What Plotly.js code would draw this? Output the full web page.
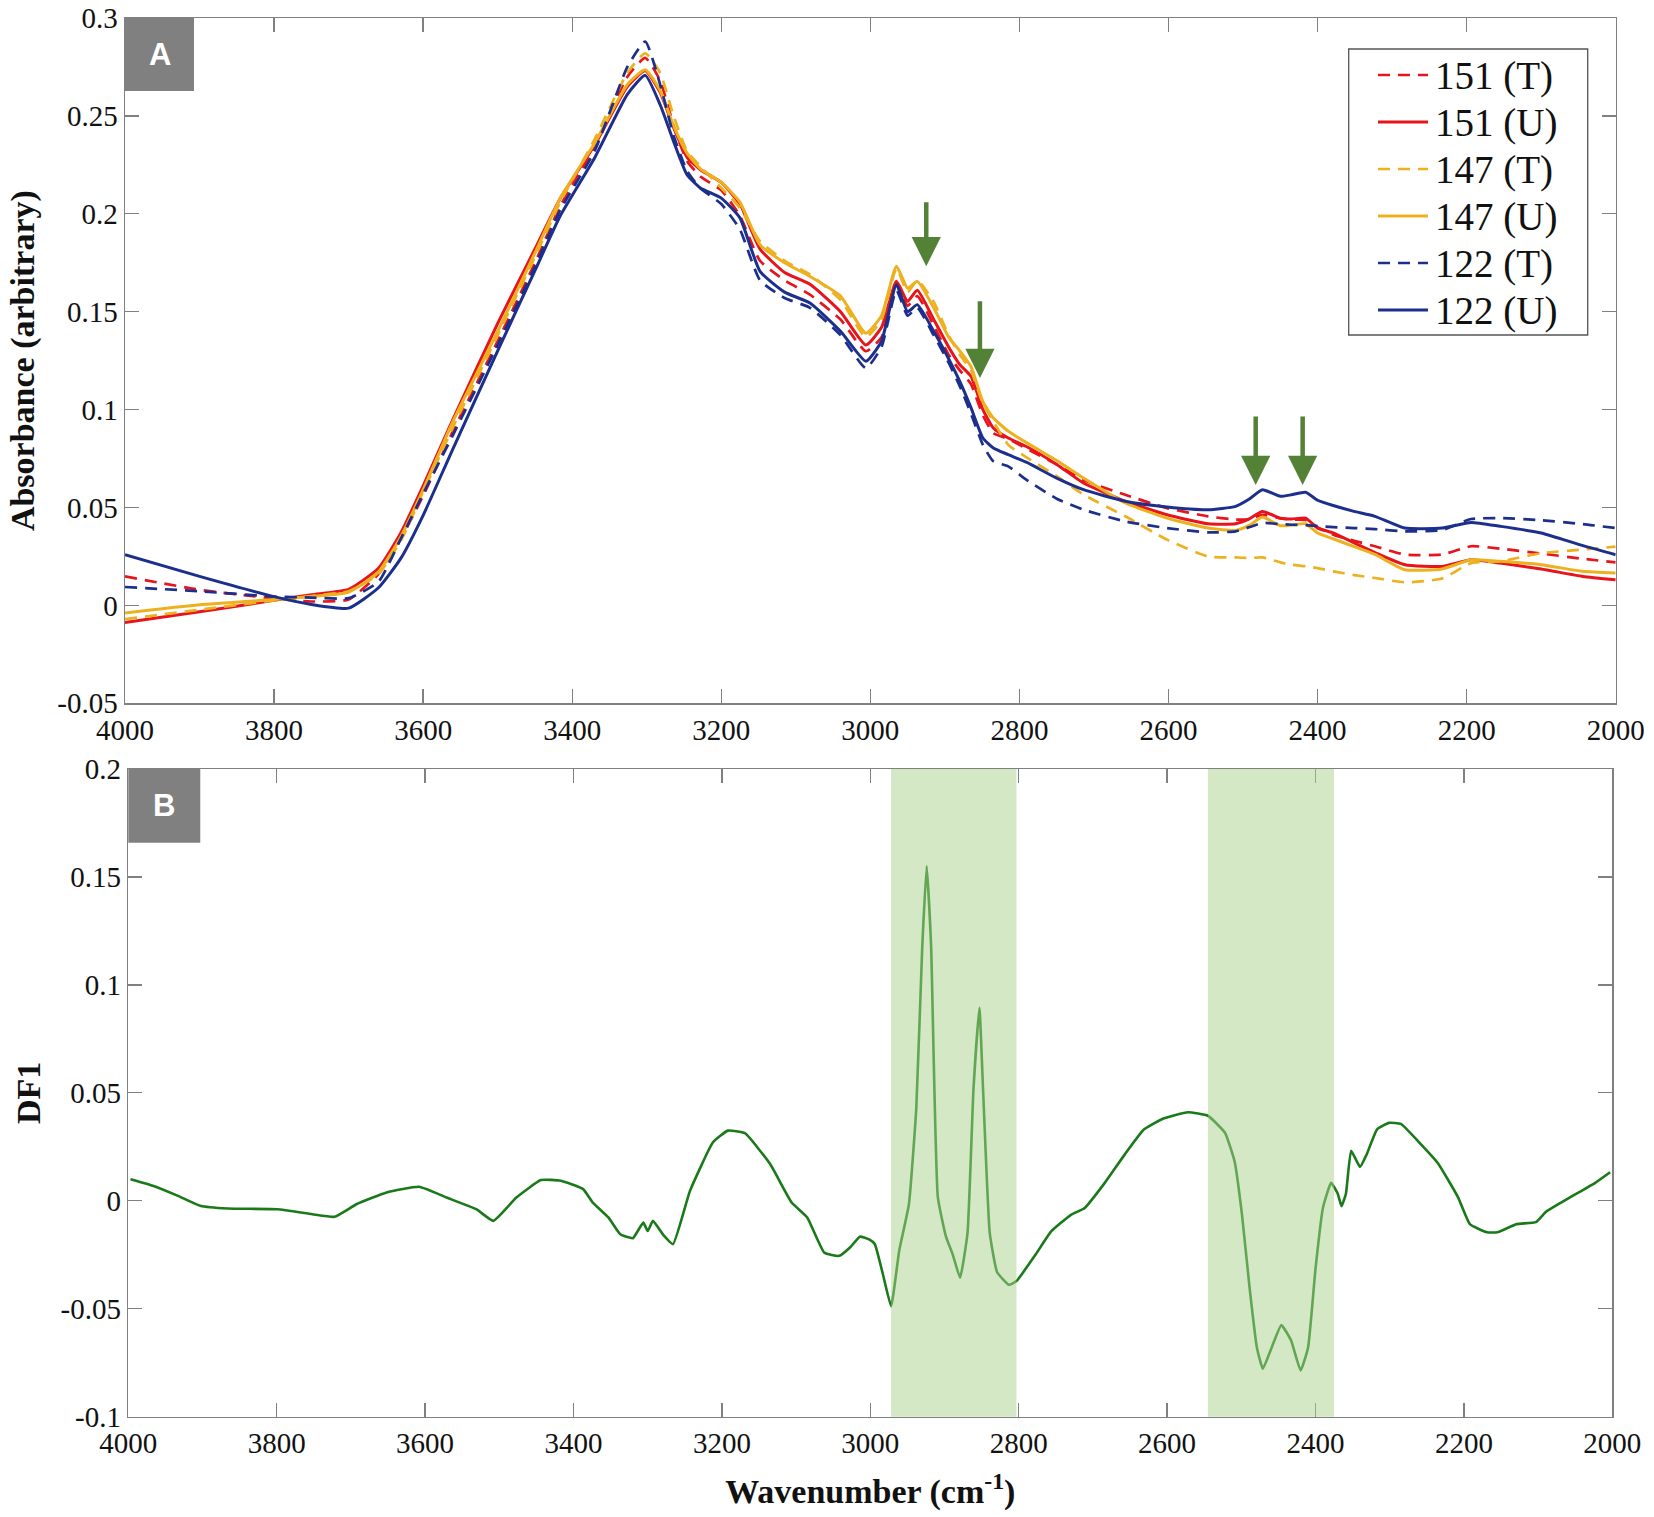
<!DOCTYPE html>
<html><head><meta charset="utf-8">
<script src="https://cdn.plot.ly/plotly-3.0.1.min.js"></script>
<style>html,body{margin:0;padding:0;background:#fff}#chart{width:1654px;height:1517px}</style>
</head><body><div id="chart"></div>
<script>
// ---------- DATA ----------
const wn = [4000, 3900, 3800, 3750, 3700, 3660, 3630, 3600, 3560, 3500, 3450, 3416, 3370, 3326, 3302, 3282, 3264, 3246, 3228, 3200, 3175, 3148, 3115, 3081, 3040, 3006, 2985, 2965, 2950, 2937, 2915, 2895, 2880, 2865, 2849, 2835, 2815, 2790, 2750, 2714, 2658, 2602, 2547, 2510, 2491, 2474, 2450, 2435, 2416, 2400, 2379, 2351, 2323, 2283, 2233, 2194, 2155, 2100, 2044, 2000];

const abs151T = [0.0148, 0.008, 0.0035, 0.002, 0.003, 0.016, 0.034, 0.056, 0.089, 0.135, 0.175, 0.204, 0.234, 0.270, 0.2796, 0.268, 0.245, 0.227, 0.219, 0.212, 0.199, 0.176, 0.166, 0.1587, 0.146, 0.1298, 0.137, 0.164, 0.153, 0.158, 0.143, 0.128, 0.12, 0.113, 0.097, 0.088, 0.085, 0.080, 0.072, 0.064, 0.0565, 0.0497, 0.0455, 0.0438, 0.044, 0.0463, 0.0445, 0.0438, 0.0436, 0.040, 0.0361, 0.033, 0.0302, 0.026, 0.026, 0.0302, 0.029, 0.0265, 0.0238, 0.022];
const abs151U = [-0.0087, -0.0033, 0.0026, 0.0055, 0.0082, 0.019, 0.037, 0.061, 0.095, 0.144, 0.182, 0.208, 0.235, 0.265, 0.273, 0.262, 0.244, 0.229, 0.2225, 0.216, 0.205, 0.182, 0.170, 0.164, 0.150, 0.133, 0.142, 0.1655, 0.1553, 0.161, 0.146, 0.132, 0.123, 0.117, 0.100, 0.0906, 0.0855, 0.081, 0.072, 0.0625, 0.0532, 0.0463, 0.0417, 0.0417, 0.0443, 0.048, 0.0445, 0.0441, 0.0446, 0.0395, 0.037, 0.0319, 0.027, 0.0208, 0.0199, 0.0233, 0.0216, 0.0186, 0.0148, 0.0131];
const abs147T = [-0.007, -0.0022, 0.0025, 0.0048, 0.0072, 0.016, 0.033, 0.058, 0.091, 0.138, 0.178, 0.206, 0.238, 0.272, 0.282, 0.272, 0.250, 0.232, 0.2242, 0.2132, 0.203, 0.186, 0.176, 0.169, 0.156, 0.137, 0.146, 0.172, 0.160, 0.166, 0.155, 0.138, 0.128, 0.12, 0.103, 0.094, 0.082, 0.0755, 0.066, 0.0566, 0.0455, 0.0336, 0.025, 0.0245, 0.0242, 0.0245, 0.022, 0.0208, 0.020, 0.019, 0.0174, 0.0155, 0.014, 0.0118, 0.0137, 0.0216, 0.0225, 0.0267, 0.0285, 0.030];
const abs147U = [-0.0039, 0.0003, 0.003, 0.0045, 0.0068, 0.017, 0.035, 0.059, 0.094, 0.140, 0.180, 0.208, 0.236, 0.266, 0.2736, 0.263, 0.245, 0.231, 0.223, 0.216, 0.206, 0.1842, 0.175, 0.168, 0.158, 0.139, 0.148, 0.1732, 0.162, 0.1655, 0.152, 0.137, 0.130, 0.122, 0.104, 0.0957, 0.089, 0.083, 0.074, 0.0651, 0.0523, 0.0446, 0.0395, 0.0383, 0.041, 0.0451, 0.0407, 0.041, 0.0417, 0.037, 0.034, 0.030, 0.026, 0.0182, 0.0186, 0.0233, 0.0225, 0.0208, 0.0174, 0.0165];
const abs122T = [0.0094, 0.0072, 0.0045, 0.004, 0.0037, 0.012, 0.034, 0.057, 0.087, 0.133, 0.173, 0.202, 0.232, 0.275, 0.288, 0.266, 0.240, 0.222, 0.213, 0.205, 0.192, 0.166, 0.157, 0.152, 0.138, 0.1212, 0.132, 0.161, 0.148, 0.152, 0.138, 0.124, 0.112, 0.098, 0.082, 0.0736, 0.071, 0.064, 0.0545, 0.0489, 0.0429, 0.0395, 0.0373, 0.0378, 0.040, 0.0421, 0.0415, 0.0412, 0.041, 0.0405, 0.040, 0.0395, 0.039, 0.0378, 0.0385, 0.0441, 0.0446, 0.0435, 0.0415, 0.0395];
const abs122U = [0.0259, 0.0148, 0.0045, 0.0005, -0.0014, 0.009, 0.024, 0.046, 0.08, 0.130, 0.171, 0.199, 0.2285, 0.261, 0.2707, 0.2557, 0.237, 0.220, 0.2132, 0.208, 0.1979, 0.1706, 0.160, 0.1544, 0.140, 0.1247, 0.135, 0.1638, 0.150, 0.1536, 0.140, 0.126, 0.1144, 0.101, 0.0855, 0.0804, 0.077, 0.073, 0.065, 0.0591, 0.0532, 0.0503, 0.0489, 0.0506, 0.0545, 0.0591, 0.0557, 0.0565, 0.0578, 0.0537, 0.051, 0.048, 0.0455, 0.0395, 0.0395, 0.0424, 0.0404, 0.037, 0.0305, 0.0259];

const seriesNames = ['151 (T)', '151 (U)', '147 (T)', '147 (U)', '122 (T)', '122 (U)'];

const df1Wn = [3997, 3967, 3933, 3903, 3866, 3799, 3752, 3722, 3692, 3652, 3608, 3571, 3531, 3508, 3477, 3444, 3417, 3387, 3374, 3353, 3337, 3320, 3306, 3300, 3293, 3279, 3266, 3243, 3212, 3192, 3169, 3135, 3106, 3085, 3062, 3042, 3027, 3014, 3001, 2994, 2983, 2972, 2961, 2948, 2938, 2930, 2924, 2918, 2909, 2898, 2889, 2879, 2869, 2861, 2853, 2848, 2839, 2829, 2813, 2803, 2777, 2756, 2730, 2711, 2684, 2657, 2631, 2605, 2572, 2545, 2522, 2509, 2499, 2489, 2479, 2471, 2459, 2446, 2433, 2420, 2410, 2400, 2390, 2379, 2370, 2365, 2359, 2352, 2340, 2331, 2317, 2301, 2285, 2261, 2235, 2208, 2192, 2169, 2155, 2129, 2103, 2089, 2069, 2044, 2023, 2003];
const df1 = [0.010, 0.007, 0.0023, -0.0023, -0.0036, -0.0039, -0.0062, -0.0074, -0.0015, 0.0039, 0.0065, 0.0015, -0.0039, -0.0093, 0.0015, 0.0096, 0.0093, 0.0054, -0.0008, -0.0077, -0.0155, -0.0173, -0.0101, -0.014, -0.0093, -0.0158, -0.0201, 0.0046, 0.0271, 0.0325, 0.0313, 0.017, -0.0008, -0.0077, -0.024, -0.0255, -0.0215, -0.0166, -0.018, -0.02, -0.034, -0.0488, -0.023, -0.0017, 0.043, 0.1175, 0.155, 0.1175, 0.0017, -0.0166, -0.0248, -0.0356, -0.015, 0.0513, 0.0894, 0.0513, -0.015, -0.0331, -0.0389, -0.0372, -0.0248, -0.0141, -0.0066, -0.0033, 0.0083, 0.0215, 0.0331, 0.0381, 0.041, 0.0394, 0.0315, 0.0182, -0.0066, -0.0397, -0.0679, -0.0778, -0.0679, -0.0576, -0.0646, -0.0786, -0.0679, -0.0315, -0.0033, 0.0083, 0.0033, -0.0025, 0.0033, 0.0232, 0.0157, 0.0215, 0.0331, 0.0361, 0.0356, 0.0273, 0.0174, 0.0017, -0.0108, -0.0146, -0.0146, -0.0108, -0.0099, -0.005, -0.0008, 0.0041, 0.0083, 0.0132];

const bandStart = [2972, 2545];
const bandEnd = [2803, 2375];

const arrowWn = [2925, 2853, 2483, 2420];
const arrowTip = [0.1732, 0.1161, 0.0615, 0.0615];
const arrowTail = [0.2067, 0.1561, 0.0972, 0.0972];

const xTicks = [4000, 3800, 3600, 3400, 3200, 3000, 2800, 2600, 2400, 2200, 2000];
const yTicksA = [-0.05, 0, 0.05, 0.1, 0.15, 0.2, 0.25, 0.3];
const yTickTextA = ['-0.05', '0', '0.05', '0.1', '0.15', '0.2', '0.25', '0.3'];
const yTicksB = [-0.1, -0.05, 0, 0.05, 0.1, 0.15, 0.2];
const yTickTextB = ['-0.1', '-0.05', '0', '0.05', '0.1', '0.15', '0.2'];

// ---------- STYLE ----------
const W = 1654, H = 1517;
const px = v => v / W, py = v => 1 - v / H;
const serif = 'Liberation Serif';
const sans = 'Liberation Sans';
const colors = ['#e8141b', '#e8141b', '#edb120', '#edb120', '#1c2f8c', '#1c2f8c'];
const dashes = ['12px,8px', 'solid', '12px,8px', 'solid', '12px,8px', 'solid'];
const absData = [abs151T, abs151U, abs147T, abs147U, abs122T, abs122U];
const lineW = d => d === 'solid' ? 3 : 2.7;

const traces = absData.map((vals, i) => ({
  type: 'scatter', mode: 'lines', x: wn, y: vals, name: seriesNames[i], showlegend: false,
  xaxis: 'x', yaxis: 'y',
  line: {color: colors[i], width: lineW(dashes[i]), dash: dashes[i], shape: 'spline', smoothing: 0.5}
}));
traces.push({
  type: 'scatter', mode: 'lines', x: df1Wn, y: df1, name: 'DF1', showlegend: false,
  xaxis: 'x2', yaxis: 'y2',
  line: {color: '#1a7a1a', width: 2.6, shape: 'spline', smoothing: 0.4}
});

function axisBase() {
  return {
    showgrid: false, zeroline: false, showline: true, linecolor: '#808080', linewidth: 1.5,
    mirror: 'ticks', ticks: 'inside', ticklen: 14, tickcolor: '#808080', tickwidth: 1.3,
    tickfont: {family: serif, size: 29, color: '#111'}
  };
}
const titleFont = () => ({family: serif, size: 34, color: '#111', weight: 'bold'});

const shapes = [];
bandStart.forEach((s, i) => shapes.push({
  type: 'rect', xref: 'x2', yref: 'y2 domain', x0: s, x1: bandEnd[i], y0: 0, y1: 1,
  fillcolor: '#a9d18e', opacity: 0.5, line: {width: 0}, layer: 'above'
}));
shapes.push({type: 'rect', xref: 'x domain', yref: 'y domain', x0: 0, x1: 0.0463, y0: 0.8935, y1: 1,
  fillcolor: '#808080', line: {width: 0}, layer: 'above'});
shapes.push({type: 'rect', xref: 'x2 domain', yref: 'y2 domain', x0: 0, x1: 0.0485, y0: 0.886, y1: 1,
  fillcolor: '#808080', line: {width: 0}, layer: 'above'});

// legend: box, sample lines, labels
const legBox = {x0: 1348.7, x1: 1587.7, y0: 49, y1: 335};
const legRow0 = 75, legRowGap = 47;
shapes.push({type: 'rect', xref: 'paper', yref: 'paper', x0: px(legBox.x0), x1: px(legBox.x1),
  y0: py(legBox.y1), y1: py(legBox.y0), fillcolor: '#fff', line: {color: '#555', width: 1.3}, layer: 'above'});
seriesNames.forEach((n, i) => {
  const yy = py(legRow0 + i * legRowGap);
  shapes.push({type: 'line', xref: 'paper', yref: 'paper', x0: px(1378), x1: px(1428), y0: yy, y1: yy,
    line: {color: colors[i], width: lineW(dashes[i]), dash: dashes[i]}, layer: 'above'});
});

const annotations = arrowWn.map((w, i) => ({
  x: w, y: arrowTip[i], ax: w, ay: arrowTail[i], xref: 'x', yref: 'y', axref: 'x', ayref: 'y',
  text: '', showarrow: true, arrowhead: 2, arrowsize: 1.3, arrowwidth: 4.5, arrowcolor: '#538135', standoff: 0
}));
seriesNames.forEach((n, i) => annotations.push({
  xref: 'paper', yref: 'paper', x: px(1433), y: py(legRow0 + i * legRowGap + 1), xanchor: 'left', yanchor: 'middle',
  text: n, showarrow: false, font: {family: serif, size: 39, color: '#111'}
}));
annotations.push({xref: 'x domain', yref: 'y domain', x: 0.02315, y: 0.9468, text: 'A', showarrow: false,
  xanchor: 'center', yanchor: 'middle', font: {family: sans, size: 31, color: '#fff', weight: 'bold'}});
annotations.push({xref: 'x2 domain', yref: 'y2 domain', x: 0.02425, y: 0.943, text: 'B', showarrow: false,
  xanchor: 'center', yanchor: 'middle', font: {family: sans, size: 31, color: '#fff', weight: 'bold'}});

const layout = {
  width: W, height: H, margin: {l: 0, r: 0, t: 0, b: 0}, paper_bgcolor: '#fff', plot_bgcolor: '#fff',
  font: {family: serif, size: 29, color: '#111'},
  showlegend: false,
  xaxis: Object.assign(axisBase(), {domain: [px(125), px(1615.7)], anchor: 'y', range: [4000, 2000],
    tickvals: xTicks, ticktext: xTicks.map(String)}),
  yaxis: Object.assign(axisBase(), {domain: [py(703.3), py(18)], anchor: 'x', range: [-0.05, 0.3],
    tickvals: yTicksA, ticktext: yTickTextA,
    title: {text: 'Absorbance (arbitrary)', font: titleFont(), standoff: 12}}),
  xaxis2: Object.assign(axisBase(), {domain: [px(128.3), px(1612.3)], anchor: 'y2', range: [4000, 2000],
    tickvals: xTicks, ticktext: xTicks.map(String),
    title: {text: 'Wavenumber (cm<sup>-1</sup>)', font: titleFont(), standoff: 21}}),
  yaxis2: Object.assign(axisBase(), {domain: [py(1416.7), py(769)], anchor: 'x2', range: [-0.1, 0.2],
    tickvals: yTicksB, ticktext: yTickTextB,
    title: {text: 'DF1', font: titleFont(), standoff: 9}}),
  shapes: shapes,
  annotations: annotations
};

Plotly.newPlot('chart', traces, layout, {staticPlot: true, displayModeBar: false});
</script>
</body></html>
